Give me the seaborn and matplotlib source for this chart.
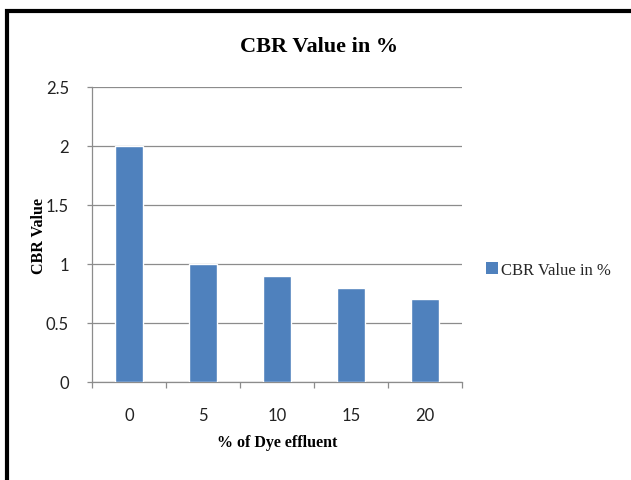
import matplotlib
matplotlib.use("Agg")
import matplotlib.pyplot as plt
import seaborn as sns
import pandas as pd
from matplotlib.patches import Rectangle, Patch

categories = ["0", "5", "10", "15", "20"]
values = [2.0, 1.0, 0.9, 0.8, 0.7]
yticks = [0, 0.5, 1, 1.5, 2, 2.5]
ytick_labels = ["0", "0.5", "1", "1.5", "2", "2.5"]
series_name = "CBR Value in %"

df = pd.DataFrame({"dye": categories, "cbr": values})

sns.set_theme(style="white")
narrow = ["Lato", "DejaVu Sans"]
serif = ["Liberation Serif", "DejaVu Serif"]

fig = plt.figure(figsize=(6.31, 4.81), dpi=100)
ax = fig.add_axes([92/631, 1-383/481, (462-92)/631, (383-88)/481])

sns.barplot(data=df, x="dye", y="cbr", color="#4F81BD", saturation=1,
            width=0.39, ax=ax, zorder=3)

ax.set_ylim(0, 2.5)
ax.set_xlim(-0.5, 4.5)
ax.set_yticks(yticks)
ax.set_yticklabels(ytick_labels, fontfamily=narrow, fontsize=12, color="#222222")
ax.set_xticks(range(len(categories)))
ax.set_xticklabels(categories, fontfamily=narrow, fontsize=12, color="#222222")
ax.yaxis.grid(True, color="#8c8c8c", linewidth=0.9, zorder=0)
ax.set_axisbelow(True)

for s in ["top", "right"]:
    ax.spines[s].set_visible(False)
for s in ["left", "bottom"]:
    ax.spines[s].set_color("#8c8c8c")
    ax.spines[s].set_linewidth(0.9)

ax.tick_params(axis="y", which="major", length=3.6, color="#8c8c8c", width=0.9,
               direction="out", left=True, pad=13)
ax.tick_params(axis="x", which="major", length=0, pad=18)
ax.set_xticks([-0.5, 0.5, 1.5, 2.5, 3.5, 4.5], minor=True)
ax.tick_params(axis="x", which="minor", length=4.5, color="#8c8c8c", width=0.9,
               direction="out", bottom=True)

ax.set_xlabel("% of Dye effluent", fontfamily=serif, fontweight="bold",
              fontsize=11.5, color="black")
ax.set_ylabel("CBR Value", fontfamily=serif, fontweight="bold",
              fontsize=11.5, color="black")
ax.yaxis.label.set_va("center")
ax.yaxis.set_label_coords((39-92)/370, 0.5)
ax.xaxis.label.set_va("center")
ax.xaxis.set_label_coords(0.5, -(443-383)/295)

fig.text(319/631, 1-47/481, "CBR Value in %", ha="center", va="center",
         fontfamily=serif, fontweight="bold", fontsize=16, color="black")

handle = Patch(facecolor="#4F81BD", edgecolor="none")
fig.legend([handle], [series_name], loc="center left",
           bbox_to_anchor=(486/631, 1-271/481), frameon=False,
           prop={"family": serif, "size": 12}, handlelength=0.7,
           handleheight=0.7, handletextpad=0.2, borderaxespad=0,
           borderpad=0)

fig.patches.append(Rectangle((6.5/631, -0.1), 1.2, 1 - 11.5/481 + 0.1,
                             transform=fig.transFigure, fill=False,
                             edgecolor="black", linewidth=3, zorder=10))

fig.savefig("out.png", dpi=100, facecolor="white")
